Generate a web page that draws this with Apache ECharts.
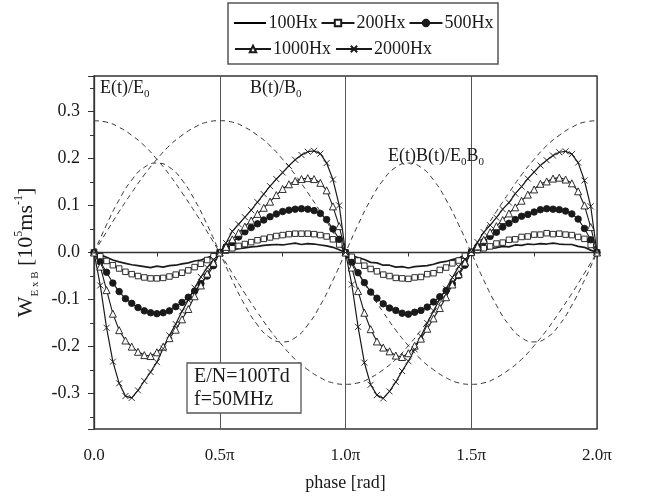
<!DOCTYPE html>
<html><head><meta charset="utf-8">
<script src="https://cdn.jsdelivr.net/npm/echarts@6/dist/echarts.min.js"></script>
<style>html,body{margin:0;padding:0;background:#fff}#c{width:660px;height:497px}</style>
</head><body><div id="c"></div>
<script>
// phase sampling step of the measured curves (units of pi)
const STEP = 0.025;
// phase sampling step of the reference (dashed) curves (units of pi)
const STEP_REF = 0.05;
const xTickLabels = ['0.0', '0.5π', '1.0π', '1.5π', '2.0π'];
const seriesNames = ['100Hx', '200Hx', '500Hx', '1000Hx', '2000Hx'];

const w100 = [0, -0.005, -0.01, -0.016, -0.02, -0.023, -0.026, -0.028, -0.03, -0.032, -0.029, -0.031, -0.028, -0.027, -0.024, -0.022, -0.018, -0.016, -0.011, -0.006, 0,
  0.003, 0.006, 0.008, 0.01, 0.012, 0.013, 0.015, 0.016, 0.017, 0.016, 0.018, 0.02, 0.017, 0.019, 0.018, 0.016, 0.014, 0.011, 0.006, 0,
  -0.006, -0.011, -0.015, -0.021, -0.022, -0.027, -0.027, -0.031, -0.03, -0.033, -0.03, -0.029, -0.028, -0.025, -0.021, -0.019, -0.015, -0.012, -0.005, 0,
  0.004, 0.005, 0.009, 0.01, 0.013, 0.012, 0.016, 0.015, 0.018, 0.017, 0.019, 0.018, 0.02, 0.018, 0.017, 0.017, 0.013, 0.011, 0.005, 0];

const w200 = [0, -0.008, -0.018, -0.027, -0.034, -0.041, -0.046, -0.05, -0.053, -0.055, -0.055, -0.054, -0.051, -0.047, -0.043, -0.038, -0.031, -0.024, -0.016, -0.008, 0,
  0.004, 0.009, 0.014, 0.018, 0.022, 0.026, 0.029, 0.032, 0.035, 0.037, 0.039, 0.04, 0.04, 0.04, 0.039, 0.037, 0.034, 0.028, 0.017, 0,
  -0.009, -0.017, -0.028, -0.035, -0.04, -0.047, -0.05, -0.054, -0.055, -0.056, -0.053, -0.052, -0.046, -0.044, -0.037, -0.032, -0.023, -0.017, -0.007, 0,
  0.005, 0.009, 0.013, 0.019, 0.021, 0.027, 0.028, 0.033, 0.034, 0.038, 0.038, 0.041, 0.039, 0.04, 0.038, 0.037, 0.033, 0.029, 0.016, 0];

const w500 = [0, -0.02, -0.042, -0.065, -0.083, -0.098, -0.108, -0.117, -0.124, -0.128, -0.13, -0.128, -0.124, -0.115, -0.106, -0.095, -0.082, -0.066, -0.05, -0.028, 0,
  0.012, 0.022, 0.033, 0.044, 0.053, 0.061, 0.069, 0.076, 0.082, 0.087, 0.09, 0.092, 0.093, 0.092, 0.089, 0.083, 0.07, 0.05, 0.028, 0,
  -0.021, -0.043, -0.064, -0.084, -0.097, -0.109, -0.118, -0.123, -0.129, -0.131, -0.127, -0.123, -0.116, -0.105, -0.094, -0.081, -0.067, -0.049, -0.027, 0.001,
  0.011, 0.023, 0.034, 0.043, 0.054, 0.062, 0.07, 0.077, 0.081, 0.086, 0.091, 0.093, 0.092, 0.091, 0.088, 0.082, 0.071, 0.051, 0.027, 0];

const w1000 = [0, -0.03, -0.08, -0.13, -0.165, -0.187, -0.2, -0.211, -0.218, -0.22, -0.212, -0.2, -0.182, -0.164, -0.142, -0.12, -0.093, -0.07, -0.045, -0.022, 0,
  0.012, 0.028, 0.042, 0.055, 0.068, 0.082, 0.095, 0.108, 0.122, 0.135, 0.145, 0.152, 0.156, 0.158, 0.156, 0.148, 0.132, 0.098, 0.056, 0,
  -0.032, -0.082, -0.128, -0.163, -0.189, -0.202, -0.21, -0.219, -0.222, -0.214, -0.198, -0.183, -0.162, -0.14, -0.118, -0.095, -0.068, -0.046, -0.021, 0.001,
  0.013, 0.027, 0.043, 0.056, 0.069, 0.083, 0.096, 0.11, 0.123, 0.134, 0.146, 0.151, 0.157, 0.159, 0.155, 0.147, 0.13, 0.1, 0.054, 0];

const w2000 = [0, -0.07, -0.16, -0.232, -0.278, -0.305, -0.309, -0.293, -0.273, -0.254, -0.233, -0.204, -0.176, -0.152, -0.125, -0.101, -0.075, -0.052, -0.032, -0.015, 0,
  0.02, 0.045, 0.06, 0.075, 0.09, 0.107, 0.124, 0.141, 0.156, 0.17, 0.184, 0.197, 0.207, 0.214, 0.216, 0.21, 0.19, 0.155, 0.1, 0,
  -0.068, -0.158, -0.234, -0.281, -0.303, -0.31, -0.295, -0.275, -0.252, -0.231, -0.206, -0.178, -0.15, -0.124, -0.099, -0.077, -0.053, -0.03, -0.014, 0.002,
  0.022, 0.043, 0.058, 0.074, 0.092, 0.106, 0.125, 0.14, 0.157, 0.171, 0.185, 0.196, 0.206, 0.213, 0.215, 0.209, 0.191, 0.153, 0.098, 0];

// reference curves (dashed), scaled as drawn in the plot
const eNorm = [0.28, 0.277, 0.266, 0.249, 0.227, 0.198, 0.165, 0.127, 0.087, 0.044, 0, -0.044, -0.087, -0.127, -0.165, -0.198, -0.227, -0.249, -0.266, -0.277, -0.28,
  -0.277, -0.266, -0.249, -0.227, -0.198, -0.165, -0.127, -0.087, -0.044, 0, 0.044, 0.087, 0.127, 0.165, 0.198, 0.227, 0.249, 0.266, 0.277, 0.28];
const bNorm = [0, 0.044, 0.087, 0.127, 0.165, 0.198, 0.227, 0.249, 0.266, 0.277, 0.28, 0.277, 0.266, 0.249, 0.227, 0.198, 0.165, 0.127, 0.087, 0.044, 0,
  -0.044, -0.087, -0.127, -0.165, -0.198, -0.227, -0.249, -0.266, -0.277, -0.28, -0.277, -0.266, -0.249, -0.227, -0.198, -0.165, -0.127, -0.087, -0.044, 0];
const ebNorm = [0, 0.059, 0.112, 0.154, 0.181, 0.19, 0.181, 0.154, 0.112, 0.059, 0, -0.059, -0.112, -0.154, -0.181, -0.19, -0.181, -0.154, -0.112, -0.059, 0,
  0.059, 0.112, 0.154, 0.181, 0.19, 0.181, 0.154, 0.112, 0.059, 0, -0.059, -0.112, -0.154, -0.181, -0.19, -0.181, -0.154, -0.112, -0.059, 0];

const FONT = "'Liberation Serif','Times New Roman',serif";
const INK = '#1a1a1a';
// plain line legend icon (bar inside a 40x10 box)
const LINE_ICON = 'path://M0,0H0.5V0.01H0Z M0,3.6H40V6.4H0Z M0,9.99H0.5V10H0Z';

function pairs(vals, step) { return vals.map((v, i) => [+(i * step).toFixed(4), v]); }

function dashed(name, vals) {
  return { name, type: 'line', data: pairs(vals, STEP_REF), smooth: true, symbol: 'none', silent: true, z: 1,
    lineStyle: { color: '#333', width: 1, type: [5, 4] } };
}
function measured(name, vals, symbol, size, fill, lw) {
  return { name, type: 'line', data: pairs(vals, STEP), symbol, symbolSize: size, showAllSymbol: true, z: 3,
    lineStyle: { color: INK, width: lw },
    itemStyle: { color: fill, borderColor: INK, borderWidth: 0.9 } };
}

const s100 = measured(seriesNames[0], w100, 'none', 0, INK, 1.7);
s100.markLine = { silent: true, symbol: 'none', label: { show: false }, animation: false,
  lineStyle: { color: '#333', type: 'solid', width: 1.2 }, data: [{ yAxis: 0 }] };

const legendText = { fontFamily: FONT, fontSize: 18, color: INK, padding: [0, 0, 0, -3] };

const chart = echarts.init(document.getElementById('c'));
chart.setOption({
  animation: false,
  backgroundColor: '#fff',
  textStyle: { fontFamily: FONT, color: INK },
  grid: { left: 94, right: 63, top: 76, bottom: 64, show: true, borderColor: '#333', borderWidth: 1.3, backgroundColor: 'transparent' },
  legend: [
    { data: [{ name: seriesNames[0], icon: LINE_ICON, itemStyle: { color: '#000', borderWidth: 0, borderColor: 'transparent' } }, seriesNames[1], seriesNames[2]],
      left: 229, top: 9, itemWidth: 33, itemHeight: 8, itemGap: 3, textStyle: legendText },
    { data: seriesNames.slice(3), left: 229, top: 35, itemWidth: 36, itemHeight: 8, itemGap: 4, textStyle: legendText }
  ],
  xAxis: {
    type: 'value', min: 0, max: 2, interval: 0.5,
    name: 'phase [rad]', nameLocation: 'middle', nameGap: 45,
    nameTextStyle: { fontFamily: FONT, fontSize: 18, color: INK },
    axisLine: { show: true, lineStyle: { color: '#333', width: 1.3 } },
    axisTick: { show: true, inside: false, length: 6, lineStyle: { color: '#333' } },
    minorTick: { show: true, splitNumber: 2, length: 4, lineStyle: { color: '#333' } },
    splitLine: { show: true, lineStyle: { color: '#555', width: 1 } },
    axisLabel: { fontFamily: FONT, fontSize: 17, color: INK, margin: 18,
      formatter: v => xTickLabels[Math.round(v / 0.5)] }
  },
  yAxis: {
    type: 'value', min: -0.375, max: 0.375, splitNumber: 7,
    name: '{w|W}{s|E x B}{w| [10}{p|5}{w|ms}{p|-1}{w|]}',
    nameLocation: 'middle', nameGap: 52, nameRotate: 90,
    nameTextStyle: { fontFamily: FONT, color: INK,
      rich: {
        w: { fontFamily: FONT, fontSize: 22, color: INK, lineHeight: 28 },
        s: { fontFamily: FONT, fontSize: 11, color: INK, lineHeight: 28, verticalAlign: 'bottom' },
        p: { fontFamily: FONT, fontSize: 12, color: INK, lineHeight: 28, verticalAlign: 'top' }
      } },
    axisLine: { show: true, lineStyle: { color: '#333', width: 1.3 } },
    axisTick: { show: true, inside: false, length: 6, lineStyle: { color: '#333' } },
    minorTick: { show: true, splitNumber: 2, length: 4, lineStyle: { color: '#333' } },
    splitLine: { show: false },
    axisLabel: { fontFamily: FONT, fontSize: 18, color: INK, margin: 14, showMinLabel: false, showMaxLabel: false,
      formatter: v => (Math.abs(Math.abs(v) - 0.375) < 1e-6 ? '' : (Math.round(v * 10) / 10).toFixed(1)) }
  },
  graphic: [
    { type: 'rect', shape: { x: 228, y: 3, width: 270, height: 61 }, style: { fill: 'none', stroke: '#555', lineWidth: 1.5 }, z: 100 },
    { type: 'text', x: 100, y: 76, z: 100, style: { text: '{m|E(t)/E}{s|0}', rich: {
        m: { fontFamily: FONT, fontSize: 18, fill: INK, lineHeight: 24 },
        s: { fontFamily: FONT, fontSize: 11, fill: INK, lineHeight: 24, verticalAlign: 'bottom' } } } },
    { type: 'text', x: 250, y: 76, z: 100, style: { text: '{m|B(t)/B}{s|0}', rich: {
        m: { fontFamily: FONT, fontSize: 18, fill: INK, lineHeight: 24 },
        s: { fontFamily: FONT, fontSize: 11, fill: INK, lineHeight: 24, verticalAlign: 'bottom' } } } },
    { type: 'text', x: 388, y: 144, z: 100, style: { text: '{m|E(t)B(t)/E}{s|0}{m|B}{s|0}', rich: {
        m: { fontFamily: FONT, fontSize: 18, fill: INK, lineHeight: 24 },
        s: { fontFamily: FONT, fontSize: 11, fill: INK, lineHeight: 24, verticalAlign: 'bottom' } } } },
    { type: 'rect', shape: { x: 187, y: 363, width: 114, height: 50 }, style: { fill: '#fff', stroke: '#555', lineWidth: 1.3 }, z: 100 },
    { type: 'text', x: 194, y: 365, z: 101, style: { text: 'E/N=100Td\nf=50MHz', fontFamily: FONT, fontSize: 20, fill: INK, lineHeight: 23 } }
  ],
  series: [
    dashed('E(t)/E0', eNorm),
    dashed('B(t)/B0', bNorm),
    dashed('E(t)B(t)/E0B0', ebNorm),
    s100,
    measured(seriesNames[1], w200, 'rect', 5.5, '#fff', 1.1),
    measured(seriesNames[2], w500, 'circle', 6.5, INK, 1.1),
    measured(seriesNames[3], w1000, 'triangle', 7, '#fff', 1.1),
    measured(seriesNames[4], w2000, 'path://M0,0L10,10M10,0L0,10', 6, INK, 1.2)
  ]
});
</script>
</body></html>
